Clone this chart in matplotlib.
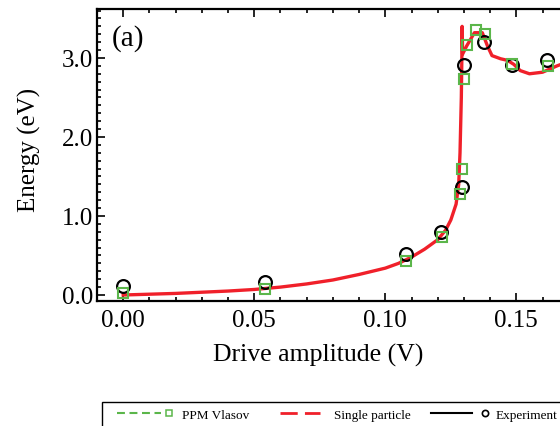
import matplotlib
matplotlib.use('Agg')
import matplotlib.pyplot as plt
from matplotlib.lines import Line2D
from matplotlib.legend_handler import HandlerLine2D
from matplotlib.ticker import MultipleLocator

plt.rcParams['font.family'] = ['Liberation Serif', 'DejaVu Serif']

# single particle curve
sp_x = [0.000, 0.010, 0.020, 0.030, 0.040, 0.050, 0.060, 0.070, 0.080, 0.090,
        0.100, 0.105, 0.110, 0.115, 0.120, 0.123, 0.125, 0.127, 0.128, 0.1285,
        0.1290, 0.1292, 0.1293, 0.1295, 0.1310, 0.1340, 0.1370, 0.1390, 0.1407,
        0.1440, 0.1466, 0.1490, 0.1515, 0.1550, 0.1600, 0.1655, 0.1720]
sp_e = [0.00, 0.01, 0.02, 0.035, 0.05, 0.07, 0.10, 0.14, 0.19, 0.26,
        0.34, 0.40, 0.48, 0.58, 0.70, 0.82, 0.95, 1.15, 1.40, 1.80,
        2.50, 3.00, 3.40, 3.05, 3.15, 3.32, 3.32, 3.15, 3.03,
        2.99, 2.97, 2.92, 2.84, 2.80, 2.82, 2.90, 2.98]

# PPM Vlasov
ppm_x = [0.000, 0.054, 0.108, 0.1216, 0.1284, 0.1293, 0.1299, 0.1312, 0.1347, 0.1379, 0.1484, 0.1620]
ppm_e = [0.03, 0.08, 0.43, 0.74, 1.28, 1.60, 2.73, 3.16, 3.35, 3.30, 2.92, 2.90]

# experiment
exp_x = [0.000, 0.0542, 0.108, 0.1213, 0.1293, 0.1299, 0.1375, 0.1484, 0.1617]
exp_e = [0.11, 0.16, 0.52, 0.80, 1.37, 2.91, 3.20, 2.91, 2.97]

green = '#5bb64a'
red = '#f0202a'


class PartHandler(HandlerLine2D):
    # line over part of the handle, marker near the right end
    def __init__(self, start=0.0, stop=0.78, mark_at=None):
        super().__init__()
        self.start = start
        self.stop = stop
        self.mark_at = mark_at

    def create_artists(self, legend, orig_handle, xdescent, ydescent,
                       width, height, fontsize, trans):
        y = (height - ydescent) / 2
        x0 = -xdescent
        ln = Line2D([x0 + width * self.start, x0 + width * self.stop], [y, y])
        ln.update_from(orig_handle)
        ln.set_marker('None')
        ln.set_transform(trans)
        arts = [ln]
        if self.mark_at is not None:
            mk = Line2D([x0 + width * self.mark_at], [y])
            mk.update_from(orig_handle)
            mk.set_linestyle('None')
            mk.set_transform(trans)
            arts.append(mk)
        return arts


fig = plt.figure(figsize=(5.6, 4.27), dpi=100)
ax = fig.add_axes([97 / 560, 1 - 302 / 427, 498 / 560, 292 / 427])

ax.plot(sp_x, sp_e, color=red, lw=2.4, zorder=2)
ax.plot(exp_x, exp_e, 'o', mfc='none', mec='black', ms=9.2, mew=1.6, zorder=3)
ax.plot(ppm_x, ppm_e, 's', mfc='none', mec=green, ms=6.5, mew=1.5, zorder=4)

ax.set_xlim(-0.01, 0.18)
ax.set_ylim(-0.076, 3.62)
ax.set_xticks([0.00, 0.05, 0.10, 0.15])
ax.set_xticklabels(['0.00', '0.05', '0.10', '0.15'])
ax.set_yticks([0.0, 1.0, 2.0, 3.0])
ax.set_yticklabels(['0.0', '1.0', '2.0', '3.0'])
ax.xaxis.set_minor_locator(MultipleLocator(0.01))
ax.yaxis.set_minor_locator(MultipleLocator(0.1))
ax.tick_params(which='both', direction='in', top=True, right=True, labelsize=18, width=1.2)
ax.tick_params(which='major', length=6)
ax.tick_params(which='minor', length=3)
ax.tick_params(axis='x', pad=6)
ax.tick_params(axis='y', pad=3)
for s in ax.spines.values():
    s.set_linewidth(1.6)

ax.set_xlabel('Drive amplitude (V)', fontsize=18.5)
ax.xaxis.set_label_coords((318 - 97) / 498, -(362 - 302) / 292, transform=ax.transAxes)
ax.xaxis.label.set_va('baseline')
ax.set_ylabel('Energy (eV)', fontsize=18)
ax.yaxis.set_label_coords(-(97 - 29) / 498, (302 - 150) / 292, transform=ax.transAxes)
ax.yaxis.label.set_va('center')
ax.text((112 - 97) / 498, 1 - (25 - 10) / 292, '(a)', transform=ax.transAxes,
        fontsize=21, va='top', ha='left')

h_ppm = Line2D([], [], color=green, ls=(0, (3.8, 2.2)), lw=1.5, marker='s', mfc='none', mec=green, ms=4, mew=1.1)
h_sp = Line2D([], [], color=red, ls=(0, (6.2, 2.6)), lw=2.0)
h_exp = Line2D([], [], color='black', ls='-', lw=1.5, marker='o', mfc='none', mec='black', ms=4.5, mew=1.2)

leg = fig.legend([h_ppm, h_sp, h_exp], ['PPM Vlasov', 'Single particle', 'Experiment'],
                 handler_map={h_ppm: PartHandler(0.12, 0.80, 0.92),
                              h_sp: PartHandler(0.30, 0.91),
                              h_exp: PartHandler(0.14, 0.76, 0.97)},
                 loc='upper left', bbox_to_anchor=(102 / 560, 1 - 403 / 427), borderaxespad=0,
                 ncol=3, fontsize=9.5, fancybox=False, edgecolor='black', framealpha=1,
                 handlelength=5.0, columnspacing=0.8, borderpad=0.5, handletextpad=0.6)
leg.get_frame().set_linewidth(1.0)

fig.savefig('out.png', dpi=100)
